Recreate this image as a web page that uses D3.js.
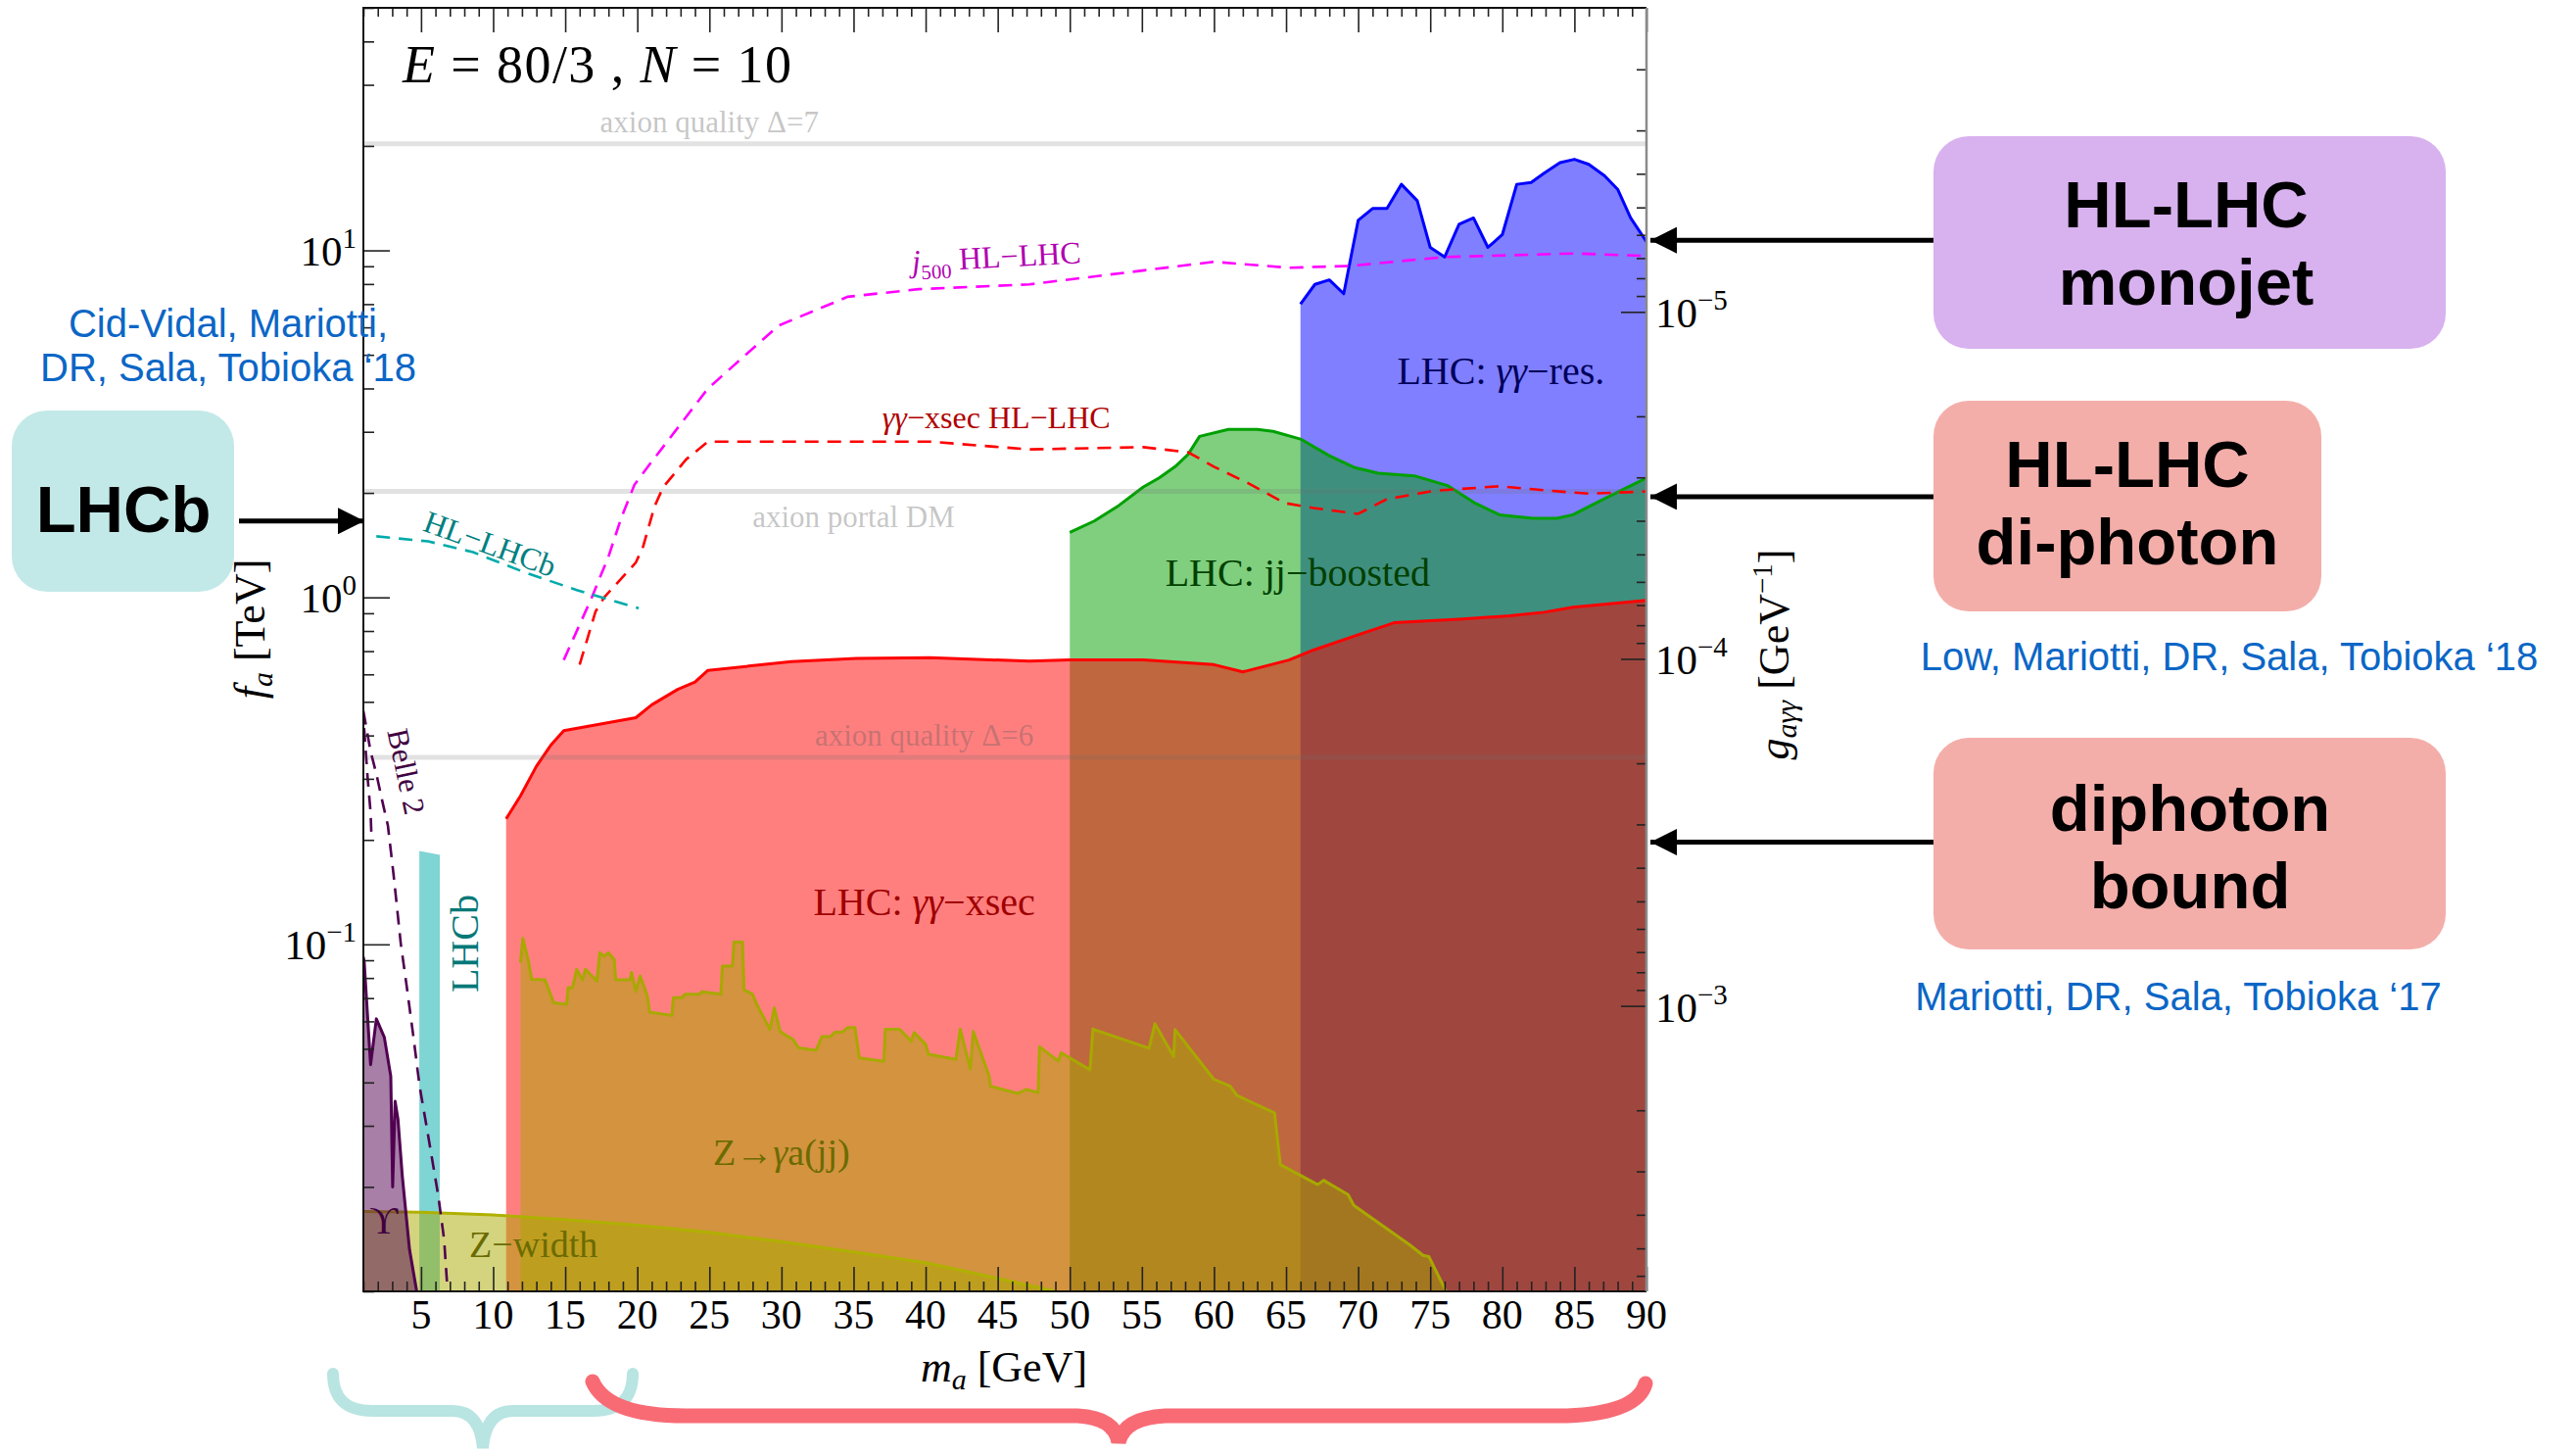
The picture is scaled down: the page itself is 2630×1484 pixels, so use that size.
<!DOCTYPE html>
<html lang="en">
<head>
<meta charset="UTF-8">
<title>ALP bounds, E = 80/3, N = 10</title>
<style>
  body { margin: 0; background: #fff; }
  text { font-family: "Liberation Serif", "DejaVu Serif", serif; }
  text.sans { font-family: "Liberation Sans", Arial, sans-serif; }
</style>
</head>
<body>
<script src="https://d3js.org/d3.v7.min.js"></script>
<script>
// all curves: [m_a in GeV, f_a in TeV]
const gammaRes = [[66.0,7.0],[67.0,7.98],[68.0,8.22],[69.0,7.5],[70.0,12.2],[71.0,13.2],[72.0,13.2],[73.0,15.5],[74.1,13.9],[75.0,10.2],[76.0,9.57],[77.0,11.9],[78.0,12.4],[79.0,10.2],[80.0,11.1],[81.0,15.5],[82.0,15.7],[82.9,16.7],[84.0,17.9],[85.0,18.3],[86.0,17.7],[87.1,16.4],[88.0,15.0],[88.9,12.4],[90.0,10.6]];
const jjBoosted = [[50.0,1.54],[51.7,1.66],[53.4,1.84],[55.1,2.08],[56.2,2.21],[57.3,2.38],[58.2,2.58],[59.0,2.91],[61.0,3.05],[63.0,3.05],[64.1,3.01],[66.0,2.86],[68.0,2.56],[69.7,2.37],[71.4,2.28],[73.9,2.24],[76.2,2.10],[78.1,1.87],[79.8,1.73],[82.1,1.69],[83.8,1.69],[84.9,1.73],[86.6,1.88],[88.3,2.04],[90.0,2.21]];
const gammaXsec = [[10.9,0.230],[11.9,0.268],[13.0,0.326],[14.0,0.375],[14.9,0.413],[19.9,0.450],[21.0,0.490],[22.8,0.543],[24.0,0.570],[24.9,0.616],[30.7,0.653],[35.2,0.667],[40.3,0.670],[47.2,0.655],[50.0,0.66],[55.1,0.66],[60.0,0.64],[62.0,0.61],[65.2,0.66],[66.9,0.705],[70.0,0.78],[72.5,0.845],[77.0,0.865],[80.5,0.885],[82.9,0.906],[84.9,0.937],[90.0,0.98]];
const lhcbBand = [[4.88,0.186],[6.3,0.181]];
const zGammaA = [[11.9,0.0886],[12.06,0.104],[12.45,0.0895],[12.67,0.0793],[13.6,0.079],[14.2,0.0679],[15.1,0.0672],[15.2,0.075],[15.5,0.075],[15.8,0.0847],[16.2,0.079],[16.4,0.0847],[17.2,0.0784],[17.4,0.0946],[17.7,0.0925],[18.0,0.0946],[18.4,0.0905],[18.5,0.079],[19.5,0.079],[19.6,0.083],[19.9,0.0733],[20.2,0.081],[20.7,0.071],[20.85,0.0638],[22.4,0.0624],[22.5,0.0702],[23.1,0.0702],[23.3,0.0718],[24.3,0.0718],[24.5,0.073],[25.8,0.0718],[25.9,0.0866],[26.6,0.0866],[26.7,0.1016],[27.3,0.1016],[27.4,0.074],[28.0,0.0718],[28.3,0.067],[29.2,0.0569],[29.5,0.0656],[29.9,0.0562],[30.2,0.055],[30.8,0.0532],[31.2,0.0503],[32.4,0.0495],[32.8,0.0542],[33.4,0.0542],[33.7,0.0558],[34.2,0.0558],[34.6,0.0576],[35.1,0.0576],[35.4,0.0471],[37.1,0.046],[37.2,0.0569],[38.2,0.0569],[39.0,0.0526],[39.2,0.0557],[40.0,0.0515],[40.2,0.0482],[42.1,0.0466],[42.4,0.057],[43.1,0.0437],[43.3,0.0561],[44.4,0.0418],[44.5,0.039],[46.4,0.0372],[47.0,0.0382],[47.8,0.0374],[47.9,0.0507],[49.2,0.0461],[49.4,0.0487],[51.4,0.0435],[51.6,0.057],[55.5,0.0502],[55.9,0.0591],[57.2,0.0475],[57.3,0.0568],[60.0,0.0408],[61.1,0.0391],[61.6,0.0367],[64.2,0.0327],[64.6,0.0232],[67.2,0.0203],[67.6,0.0209],[69.3,0.019],[69.7,0.0177],[73.6,0.0136],[74.5,0.0127],[74.9,0.0126],[76.1,0.0100]];
const zWidth = [[1,0.0170],[5,0.0169],[10,0.0166],[15,0.0161],[20,0.0155],[25,0.0148],[30,0.0139],[35,0.0130],[40,0.0121],[45,0.0109],[49,0.0100]];
const upsilon = [[1.0,0.092],[1.06,0.0886],[1.5,0.045],[1.9,0.061],[2.45,0.054],[2.9,0.0417],[3.03,0.020],[3.2,0.0353],[3.4,0.0313],[3.7,0.0215],[4.2,0.0132],[4.7,0.0100]];

// projections (dashed)
const j500HL = [[14.9,0.66],[16.8,0.99],[18.0,1.31],[18.9,1.70],[19.8,2.11],[20.7,2.37],[24.9,4.0],[29.8,6.07],[34.6,7.35],[39.5,7.73],[47.2,7.98],[60.0,9.27],[65.2,8.91],[69.4,9.02],[76.0,9.57],[85.0,9.8],[90.0,9.64]];
const xsecHL = [[16.0,0.64],[17.1,0.91],[17.7,1.0],[19.9,1.26],[20.4,1.40],[21.2,1.83],[21.8,2.08],[23.4,2.50],[24.9,2.81],[40.3,2.81],[47.2,2.67],[55.1,2.71],[58.2,2.62],[60.0,2.38],[62.4,2.13],[64.9,1.87],[66.9,1.81],[70.0,1.74],[72.0,1.92],[75.3,2.03],[79.8,2.09],[83.2,2.03],[86.0,1.99],[90.0,2.02]];
const hlLHCb = [[1.9,1.50],[5.5,1.45],[8.6,1.35],[12.2,1.18],[15.8,1.05],[20.1,0.93]];
const belle2 = [[1.0,0.47],[1.5,0.36],[1.9,0.31],[2.3,0.26],[2.7,0.22],[3.1,0.158],[3.6,0.10],[4.0,0.076],[4.5,0.053],[4.9,0.039],[5.5,0.028],[6.2,0.0188],[6.6,0.0141],[6.8,0.0106]];
const belle2b = [[1.05,0.42],[1.3,0.30],[1.5,0.24],[1.55,0.21]];

// reference lines f_a [TeV]
const refLines = [
  {f: 20.3, label: "axion quality \u0394=7", m: 25.0, above: true},
  {f: 2.02, label: "axion portal DM", m: 35.0, above: false},
  {f: 0.346, label: "axion quality \u0394=6", m: 39.9, above: true}
];

const xMajor = [5,10,15,20,25,30,35,40,45,50,55,60,65,70,75,80,85,90];
const faMajor = [0.1, 1, 10];
const faExp = ["\u22121", "0", "1"];
const gMajor = [1e-5, 1e-4, 1e-3];
const gExp = ["\u22125", "\u22124", "\u22123"];

const gConst = 6.65e-5;   // g_ayy [GeV^-1] * f_a [TeV]

const W = 2630, H = 1484;
const plot = {left: 371, right: 1681, top: 8, bottom: 1318};

const svg = d3.select("body").append("svg").attr("width", W).attr("height", H);

const x = d3.scaleLinear().domain([1, 90]).range([plot.left, plot.right]);
const y = d3.scaleLog().domain([0.01, 50]).range([plot.bottom, plot.top]);
const g = d3.scaleLog().domain([gConst / 0.01, gConst / 50]).range([plot.bottom, plot.top]);

svg.append("clipPath").attr("id", "clip").append("rect")
  .attr("x", plot.left).attr("y", plot.top)
  .attr("width", plot.right - plot.left).attr("height", plot.bottom - plot.top);

const area = d3.area().x(d => x(d[0])).y0(y(0.01)).y1(d => y(d[1]));
const line = d3.line().x(d => x(d[0])).y(d => y(d[1]));

const layer = svg.append("g").attr("clip-path", "url(#clip)");

const regions = [
  {data: gammaRes, fill: "rgba(0,0,255,0.5)", stroke: "#0000ff"},
  {data: jjBoosted, fill: "rgba(0,160,0,0.5)", stroke: "#00a000"},
  {data: gammaXsec, fill: "rgba(255,0,0,0.5)", stroke: "#ff0000"},
  {data: lhcbBand, fill: "rgba(0,170,170,0.5)", stroke: "none"},
  {data: zGammaA, fill: "rgba(168,168,0,0.5)", stroke: "#a8a800"},
  {data: zWidth, fill: "rgba(170,170,0,0.5)", stroke: "#b0b000"},
  {data: upsilon, fill: "rgba(80,0,80,0.5)", stroke: "#500050"}
];
regions.forEach(r => {
  layer.append("path").attr("d", area(r.data)).attr("fill", r.fill);
  if (r.stroke !== "none")
    layer.append("path").attr("d", line(r.data)).attr("fill", "none")
      .attr("stroke", r.stroke).attr("stroke-width", 3).attr("stroke-linejoin", "round");
});

// grey reference lines
refLines.forEach(r => {
  layer.append("line").attr("x1", plot.left).attr("x2", plot.right)
    .attr("y1", y(r.f)).attr("y2", y(r.f))
    .attr("stroke", "rgba(110,110,110,0.2)").attr("stroke-width", 5);
  layer.append("text").attr("x", x(r.m)).attr("y", y(r.f) + (r.above ? -12 : 36))
    .attr("text-anchor", "middle").attr("font-size", 31)
    .attr("fill", "rgba(90,90,90,0.35)").text(r.label);
});

const dashed = [
  {data: j500HL, color: "#ff00ff"},
  {data: xsecHL, color: "#ff0000"},
  {data: hlLHCb, color: "#00aaaa"},
  {data: belle2, color: "#500050"},
  {data: belle2b, color: "#500050"}
];
dashed.forEach(d => {
  layer.append("path").attr("d", line(d.data)).attr("fill", "none")
    .attr("stroke", d.color).attr("stroke-width", 2.6).attr("stroke-dasharray", "14,9");
});

// region labels
function label(m, f, txt, color, size, rot) {
  const t = svg.append("text")
    .attr("transform", `translate(${x(m)},${y(f)}) rotate(${rot || 0})`)
    .attr("text-anchor", "middle").attr("dy", "0.35em")
    .attr("font-size", size).attr("fill", color);
  txt.forEach(p => {
    const s = t.append("tspan").text(p.t);
    if (p.i) s.attr("font-style", "italic");
    if (p.sub) s.attr("font-size", size * 0.65).attr("dy", 8);
    if (p.back) s.attr("dy", -8);
  });
  return t;
}
label(79.9, 4.52, [{t: "LHC: "}, {t: "\u03b3\u03b3", i: 1}, {t: "\u2212res."}], "#00005a", 40);
label(65.8, 1.18, [{t: "LHC: jj\u2212boosted"}], "#004000", 40);
label(39.9, 0.133, [{t: "LHC: "}, {t: "\u03b3\u03b3", i: 1}, {t: "\u2212xsec"}], "#a00000", 40);
label(30.0, 0.0252, [{t: "Z\u2192"}, {t: "\u03b3", i: 1}, {t: "a(jj)"}], "#6b6b00", 38);
label(12.8, 0.0137, [{t: "Z\u2212width"}], "#6b6b00", 38);
label(2.4, 0.0161, [{t: "\u03d2"}], "#400040", 40);
label(8.0, 0.1005, [{t: "LHCb"}], "#007878", 40, -90);
label(4.0, 0.315, [{t: "Belle 2"}], "#400040", 31, 78);
label(9.8, 1.43, [{t: "HL\u2212LHCb"}], "#008080", 32, 20);
label(44.9, 9.6, [{t: "j", i: 1}, {t: "500", sub: 1}, {t: " HL\u2212LHC", back: 1}], "#b000b0", 32, -3);
label(44.9, 3.3, [{t: "\u03b3\u03b3", i: 1}, {t: "\u2212xsec HL\u2212LHC"}], "#b00000", 32);

// axes (ticks inward)
const tickStyle = sel => { sel.select(".domain").remove(); sel.selectAll("line").attr("stroke", "#222").attr("stroke-width", 1.6); };
const xMinor = x.ticks(89).filter(v => v % 5 !== 0);
svg.append("g").attr("transform", `translate(0,${plot.bottom})`)
  .call(d3.axisBottom(x).tickValues(xMajor).tickSize(-25).tickFormat("")).call(tickStyle);
svg.append("g").attr("transform", `translate(0,${plot.bottom})`)
  .call(d3.axisBottom(x).tickValues(xMinor).tickSize(-10).tickFormat("")).call(tickStyle);
svg.append("g").attr("transform", `translate(0,${plot.top})`)
  .call(d3.axisTop(x).tickValues(xMajor).tickSize(-25).tickFormat("")).call(tickStyle);
svg.append("g").attr("transform", `translate(0,${plot.top})`)
  .call(d3.axisTop(x).tickValues(xMinor).tickSize(-9).tickFormat("")).call(tickStyle);

const yMinor = y.ticks().filter(v => faMajor.indexOf(v) < 0);
svg.append("g").attr("transform", `translate(${plot.left},0)`)
  .call(d3.axisLeft(y).tickValues(faMajor).tickSize(-27).tickFormat("")).call(tickStyle);
svg.append("g").attr("transform", `translate(${plot.left},0)`)
  .call(d3.axisLeft(y).tickValues(yMinor).tickSize(-11).tickFormat("")).call(tickStyle);

const gMinor = g.ticks().filter(v => !gMajor.some(m => Math.abs(v / m - 1) < 1e-6));
svg.append("g").attr("transform", `translate(${plot.right},0)`)
  .call(d3.axisRight(g).tickValues(gMajor).tickSize(-26).tickFormat("")).call(tickStyle);
svg.append("g").attr("transform", `translate(${plot.right},0)`)
  .call(d3.axisRight(g).tickValues(gMinor).tickSize(-10).tickFormat("")).call(tickStyle);

// frame
svg.append("path").attr("d", `M${plot.right},${plot.top}H${plot.left}V${plot.bottom}H${plot.right}`)
  .attr("fill", "none").attr("stroke", "#111").attr("stroke-width", 2);
svg.append("line").attr("x1", plot.right).attr("x2", plot.right).attr("y1", plot.top).attr("y2", plot.bottom)
  .attr("stroke", "#8a8a8a").attr("stroke-width", 2.5);

// tick labels
svg.append("g").selectAll("text").data(xMajor).join("text")
  .attr("x", d => x(d)).attr("y", 1356).attr("text-anchor", "middle")
  .attr("font-size", 42).text(d => d);

faMajor.forEach((v, i) => {
  const t = svg.append("text").attr("x", 364).attr("y", y(v) + 15)
    .attr("text-anchor", "end").attr("font-size", 43);
  t.append("tspan").text("10");
  t.append("tspan").attr("dy", -18).attr("font-size", 29).text(faExp[i]);
});
gMajor.forEach((v, i) => {
  const t = svg.append("text").attr("x", 1690).attr("y", g(v) + 16).attr("font-size", 43);
  t.append("tspan").text("10");
  t.append("tspan").attr("dy", -18).attr("font-size", 29).text(gExp[i]);
});

// axis titles
const xt = svg.append("text").attr("x", 1025).attr("y", 1410).attr("text-anchor", "middle").attr("font-size", 44);
xt.append("tspan").attr("font-style", "italic").text("m");
xt.append("tspan").attr("font-style", "italic").attr("font-size", 30).attr("dy", 8).text("a");
xt.append("tspan").attr("dy", -8).text(" [GeV]");

const yt = svg.append("text").attr("transform", "translate(270,642) rotate(-90)")
  .attr("text-anchor", "middle").attr("font-size", 44);
yt.append("tspan").attr("font-style", "italic").text("f");
yt.append("tspan").attr("font-style", "italic").attr("font-size", 30).attr("dy", 8).text("a");
yt.append("tspan").attr("dy", -8).text(" [TeV]");

const gt = svg.append("text").attr("transform", "translate(1826,668) rotate(-90)")
  .attr("text-anchor", "middle").attr("font-size", 44);
gt.append("tspan").attr("font-style", "italic").text("g");
gt.append("tspan").attr("font-style", "italic").attr("font-size", 30).attr("dy", 8).text("a\u03b3\u03b3");
gt.append("tspan").attr("dy", -8).text(" [GeV");
gt.append("tspan").attr("font-size", 29).attr("dy", -17).text("\u22121");
gt.append("tspan").attr("dy", 17).text("]");

// model annotation
const en = svg.append("text").attr("x", 411).attr("y", 84).attr("font-size", 54)
  .attr("textLength", 397).attr("lengthAdjust", "spacing");
en.append("tspan").attr("font-style", "italic").text("E");
en.append("tspan").text(" = 80/3 , ");
en.append("tspan").attr("font-style", "italic").text("N");
en.append("tspan").text(" = 10");

// side boxes, arrows, references
const boxes = [
  {x: 12, y: 419, w: 227, h: 185, fill: "#c2e9e8", lines: ["LHCb"], cx: 126, base: [543]},
  {x: 1974, y: 139, w: 523, h: 217, fill: "#d8b1ef", lines: ["HL-LHC", "monojet"], cx: 2232, base: [232, 311]},
  {x: 1974, y: 409, w: 396, h: 215, fill: "#f4aeaa", lines: ["HL-LHC", "di-photon"], cx: 2172, base: [497, 576]},
  {x: 1974, y: 753, w: 523, h: 216, fill: "#f4aeaa", lines: ["diphoton", "bound"], cx: 2236, base: [848, 927]}
];
boxes.forEach(b => {
  svg.append("rect").attr("x", b.x).attr("y", b.y).attr("width", b.w).attr("height", b.h)
    .attr("rx", 36).attr("fill", b.fill);
  b.lines.forEach((l, i) => svg.append("text").attr("class", "sans").attr("x", b.cx).attr("y", b.base[i])
    .attr("text-anchor", "middle").attr("font-size", 67).attr("font-weight", "bold").text(l));
});

svg.append("defs").append("marker").attr("id", "head")
  .attr("viewBox", "0 0 10 10").attr("refX", 10).attr("refY", 5)
  .attr("markerWidth", 5.4).attr("markerHeight", 5.4).attr("markerUnits", "strokeWidth")
  .attr("orient", "auto").append("path").attr("d", "M0,0L10,5L0,10Z").attr("fill", "#000");

const arrows = [
  {x1: 244, x2: 372, f: 1.66},
  {x1: 1974, x2: 1685, f: 10.7},
  {x1: 1974, x2: 1685, f: 1.95},
  {x1: 1974, x2: 1685, f: 0.197}
];
arrows.forEach(a => svg.append("line").attr("x1", a.x1).attr("x2", a.x2)
  .attr("y1", y(a.f)).attr("y2", y(a.f))
  .attr("stroke", "#000").attr("stroke-width", 5).attr("marker-end", "url(#head)"));

const refs = [
  {x: 233, y: 344, t: "Cid-Vidal, Mariotti,"},
  {x: 233, y: 389, t: "DR, Sala, Tobioka \u201818"},
  {x: 2276, y: 684, t: "Low, Mariotti, DR, Sala, Tobioka \u201818"},
  {x: 2224, y: 1031, t: "Mariotti, DR, Sala, Tobioka \u201817"}
];
refs.forEach(r => svg.append("text").attr("class", "sans").attr("x", r.x).attr("y", r.y)
  .attr("text-anchor", "middle").attr("font-size", 40).attr("fill", "#0b66c6").text(r.t));

// braces under the mass axis
svg.append("path")
  .attr("d", "M340,1402 Q340,1440 380,1440 L462,1440 Q490,1440 493,1478 Q496,1440 524,1440 L606,1440 Q646,1440 646,1402")
  .attr("fill", "none").attr("stroke", "#b8e4e2").attr("stroke-width", 12).attr("stroke-linecap", "round");
svg.append("path")
  .attr("d", "M605,1410 Q620,1445 700,1445 L1100,1445 Q1138,1447 1142,1472 Q1148,1447 1190,1445 L1600,1445 Q1672,1442 1680,1412")
  .attr("fill", "none").attr("stroke", "#f86b75").attr("stroke-width", 15).attr("stroke-linecap", "round");
</script>
</body>
</html>
